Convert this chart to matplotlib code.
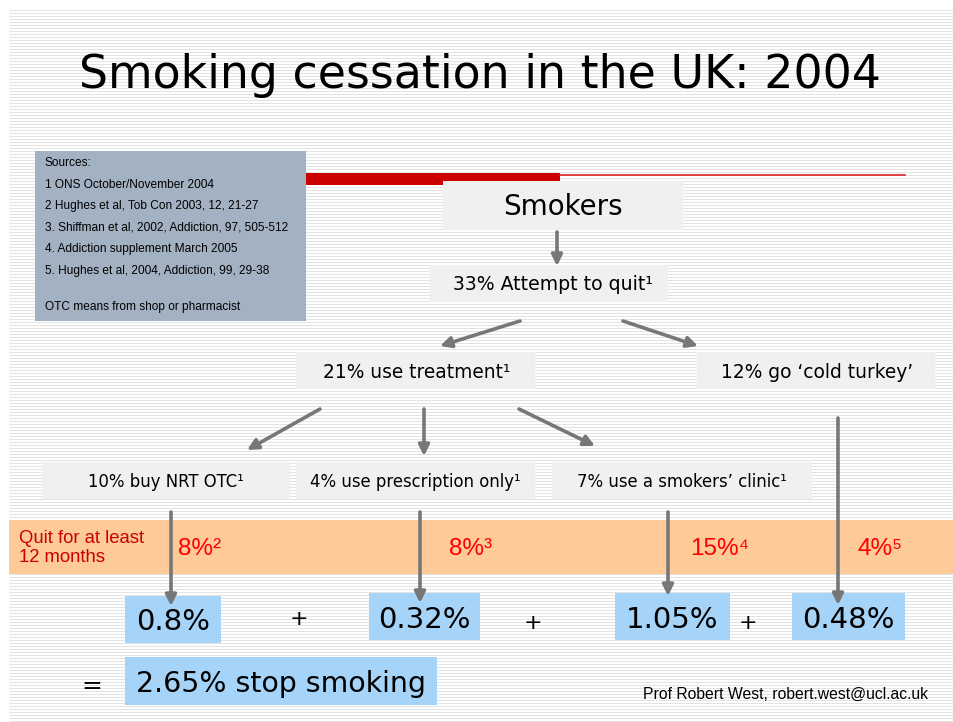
import matplotlib.pyplot as plt
from matplotlib.patches import Rectangle

# Данные схемы
title = 'Smoking cessation in the UK: 2004'
sources = ['Sources:',
           '1 ONS October/November 2004',
           '2 Hughes et al, Tob Con 2003, 12, 21-27',
           '3. Shiffman et al, 2002, Addiction, 97, 505-512',
           '4. Addiction supplement March 2005',
           '5. Hughes et al, 2004, Addiction, 99, 29-38',
           '',
           'OTC means from shop or pharmacist']
top_label = 'Smokers'
attempt_label = '33% Attempt to quit¹'
split_labels = ['21% use treatment¹', '12% go \u2018cold turkey\u2019']
treat_labels = ['10% buy NRT OTC¹', '4% use prescription only¹', '7% use a smokers\u2019 clinic¹']
quit_rates = ['8%²', '8%³', '15%⁴', '4%⁵']
outcomes = ['0.8%', '0.32%', '1.05%', '0.48%']
total_label = '2.65% stop smoking'
author = 'Prof Robert West, robert.west@ucl.ac.uk'

W, H = 954, 722
fig = plt.figure(figsize=(W / 100, H / 100), dpi=100)
ax = fig.add_axes([0, 0, 1, 1])
ax.set_xlim(0, W)
ax.set_ylim(H, 0)
ax.axis('off')

# фон в полоску
stripe_y = [10 + 3 * k for k in range(int((H - 10) / 3) + 1)]
ax.hlines(stripe_y, 9, W, color='#e3e3e3', lw=0.75, zorder=0)

tahoma = ['DejaVu Sans']
arial = ['Liberation Sans', 'DejaVu Sans']
grey_box = '#f0f0f0'
blue_box = '#a6d4f8'
arrow_c = '#777777'


def box(x0, y0, x1, y1, color, z=2):
    ax.add_patch(Rectangle((x0, y0), x1 - x0, y1 - y0, facecolor=color,
                           edgecolor='none', zorder=z))


def arrow(x0, y0, x1, y1):
    ax.annotate('', xy=(x1, y1), xytext=(x0, y0), zorder=5,
                arrowprops=dict(arrowstyle='-|>', color=arrow_c, lw=2.6,
                                mutation_scale=16, shrinkA=0, shrinkB=0))


ax.text(480, 76, title, ha='center', va='center', fontsize=33,
        family=tahoma, zorder=3)

# блок источников
box(35, 151, 306, 321, '#a3b2c2')
src_y = [163, 185, 206, 228, 249, 271, 289, 307]
for y, s in zip(src_y, sources):
    ax.text(45, y, s, fontsize=8.6, family=arial, va='center', zorder=3)

# красная линия
box(306, 173, 560, 185, '#cc0000', z=1)
ax.plot([560, 905], [174.5, 174.5], color='#dd2222', lw=1.2, zorder=1)

# узлы
box(443, 181, 683, 230, grey_box)
ax.text(563, 207, top_label, ha='center', va='center', fontsize=20, family=tahoma, zorder=3)
arrow(557, 232, 557, 266)

box(430, 265, 668, 302, grey_box)
ax.text(553, 285, attempt_label, ha='center', va='center', fontsize=13.6, family=tahoma, zorder=3)
arrow(520, 321, 440, 346)
arrow(623, 321, 698, 346)

split_x = [(296, 535), (697, 935)]
for (x0, x1), s in zip(split_x, split_labels):
    box(x0, 352, x1, 389, grey_box)
    ax.text((x0 + x1) / 2 + 1, 373, s, ha='center', va='center', fontsize=13.4,
            family=tahoma, zorder=3)
arrow(320, 409, 247, 450)
arrow(424, 409, 424, 456)
arrow(519, 409, 595, 446)

treat_x = [(42, 290), (296, 535), (552, 812)]
for (x0, x1), s in zip(treat_x, treat_labels):
    box(x0, 462, x1, 499, grey_box)
    ax.text((x0 + x1) / 2, 482, s, ha='center', va='center', fontsize=11.9,
            family=tahoma, zorder=3)

# полоса "бросили на 12 месяцев"
box(9, 520, W, 574, '#fdca98', z=1)
ax.text(19, 548, 'Quit for at least\n12 months', fontsize=13.3, color='#cc0000',
        family=arial, va='center', linespacing=1.15, zorder=3)
rate_x = [178, 449, 690, 858]
for x, s in zip(rate_x, quit_rates):
    ax.text(x, 549, s, ha='left', va='center', fontsize=17.5, color='#ff0000',
            family=arial, zorder=3)

# стрелки к результатам
arrow(171, 512, 171, 606)
arrow(420, 512, 420, 603)
arrow(668, 512, 668, 596)
arrow(838, 418, 838, 605)

out_x = [(125, 221, 596, 643), (369, 480, 593, 640), (615, 730, 593, 640), (792, 905, 593, 640)]
for (x0, x1, y0, y1), s in zip(out_x, outcomes):
    box(x0, y0, x1, y1, blue_box)
    ax.text((x0 + x1) / 2, (y0 + y1) / 2 + 3, s, ha='center', va='center',
            fontsize=21, family=tahoma, zorder=3)
for x, y in [(299, 619), (533, 623), (748, 623)]:
    ax.text(x, y, '+', ha='center', va='center', fontsize=16, family=tahoma, zorder=3)

box(125, 657, 437, 705, blue_box)
ax.text(281, 684, total_label, ha='center', va='center', fontsize=20.4, family=tahoma, zorder=3)
ax.text(92, 686, '=', ha='center', va='center', fontsize=18, family=tahoma, zorder=3)

ax.text(643, 694, author, fontsize=11.3, family=arial, va='center', zorder=3)

plt.savefig('out.png', dpi=100)
